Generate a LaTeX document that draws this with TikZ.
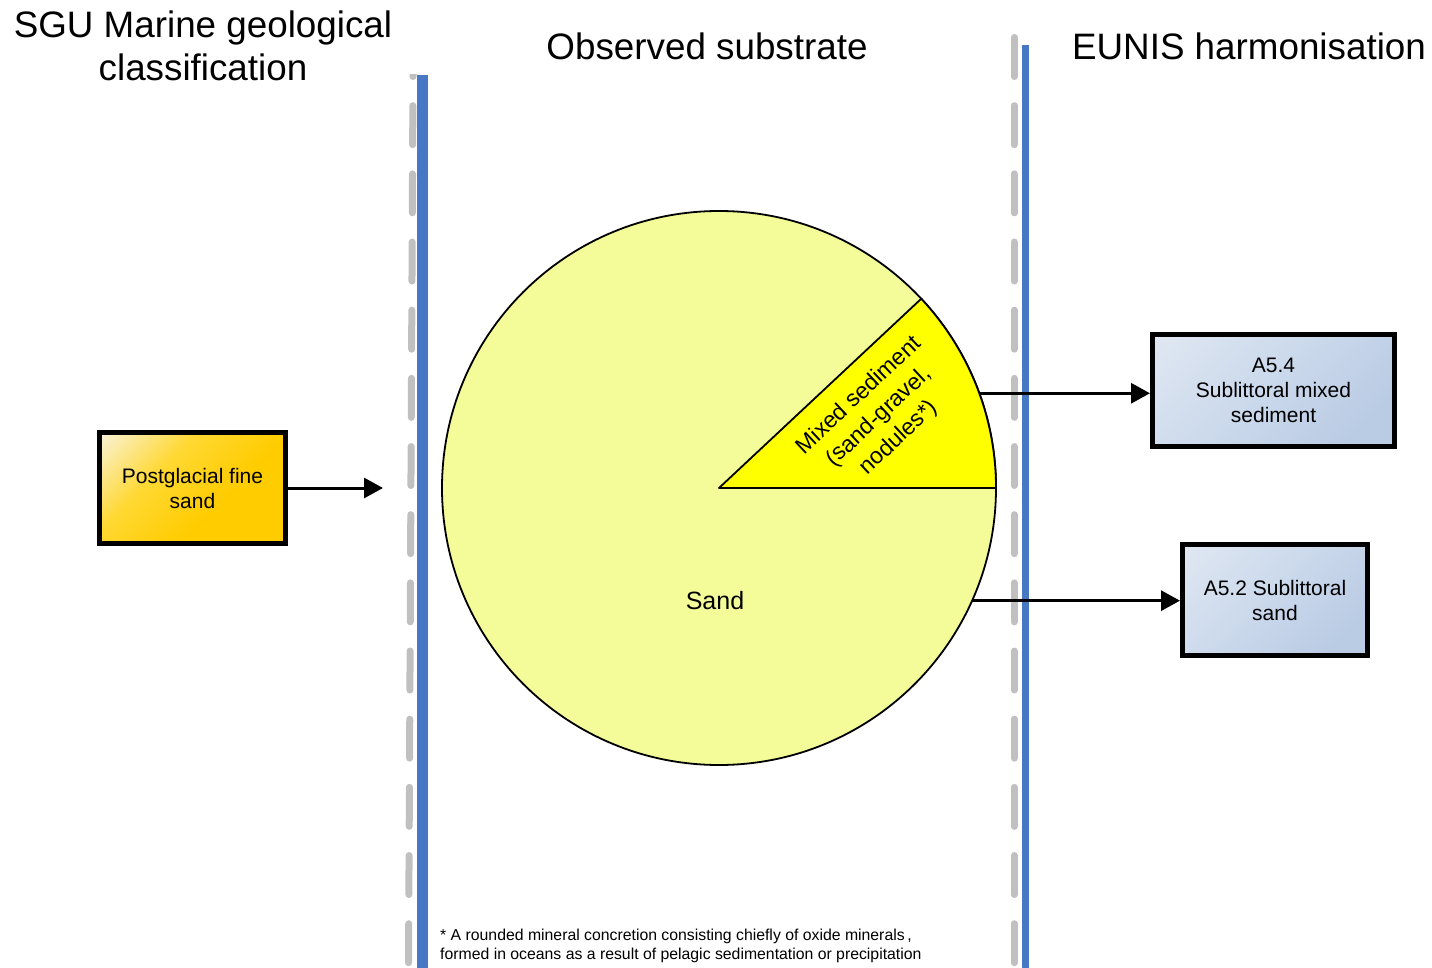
\documentclass[tikz,border=0pt]{standalone}
\usepackage{fontspec}
\setmainfont{Liberation Sans}
\usetikzlibrary{arrows.meta}

\definecolor{sandfill}{RGB}{243,252,152}
\definecolor{mixfill}{RGB}{255,255,0}
\definecolor{divblue}{RGB}{72,120,196}
\definecolor{guidegray}{RGB}{192,192,192}
\definecolor{goldA}{RGB}{248,246,236}
\definecolor{goldB}{RGB}{255,216,50}
\definecolor{goldC}{RGB}{255,204,0}
\definecolor{blueA}{RGB}{224,231,242}
\definecolor{blueB}{RGB}{204,218,236}
\definecolor{blueC}{RGB}{186,203,228}

% diagonal fades for the class boxes (pale corner at the top)
\pgfdeclareverticalshading{goldfade}{100bp}{color(0bp)=(goldC); color(40bp)=(goldC); color(62bp)=(goldB); color(88bp)=(goldA); color(100bp)=(goldA)}
\pgfdeclareverticalshading{bluefade}{100bp}{color(0bp)=(blueC); color(25bp)=(blueC); color(55bp)=(blueB); color(85bp)=(blueA); color(100bp)=(blueA)}

\begin{document}
\begin{tikzpicture}[x=1pt,y=-1pt,
  heading/.style={font=\fontsize{36.8}{43.5}\selectfont, align=center, inner sep=0},
  classbox/.style={draw=black, line width=5pt, align=center, inner sep=0,
    font=\fontsize{21}{25}\selectfont},
  goldbox/.style={classbox, shade, shading=goldfade, shading angle=45},
  bluebox/.style={classbox, shade, shading=bluefade, shading angle=45},
  link/.style={line width=3pt, -{Triangle[length=19pt,width=20pt]}},
  guide/.style={draw=guidegray, line width=7pt, line cap=round, dash pattern=on 39pt off 29.17pt},
  note/.style={font=\fontsize{15.8}{19}\selectfont, align=left, inner sep=0, anchor=west}]
\useasboundingbox (0,0) rectangle (1432,968);

% column headings
\node[heading] (h1) at (203,46) {SGU Marine geological\\classification};
\node[heading] (h2) at (707,46) {Observed substrate};
\node[heading] (h3) at (1249,46) {EUNIS harmonisation};

% column separators: grey dashed guides and blue rules
\begin{scope}
  \clip (380,75) rectangle (440,968);
  \draw[guide] (413.2,37.5) -- (408.5,968);
\end{scope}
\draw[guide] (1014,37.5) -- (1014,968);
\draw[divblue, line width=11pt] (422.5,75) -- (422.5,968);
\draw[divblue, line width=7pt] (1025.5,45) -- (1025.5,968);

% observed substrate pie
\node[circle, draw=black, line width=1.8pt, fill=sandfill, minimum size=554pt, inner sep=0, outer sep=0] (pie) at (719,488) {};
\filldraw[fill=mixfill, draw=black, line width=1.8pt, line join=round]
  (pie.center) -- (pie.0) arc[start angle=0, end angle=43.1, radius=277pt] -- cycle;
\node[font=\fontsize{25}{30}\selectfont] (sand) at (715,601) {Sand};
\node[font=\fontsize{23}{29}\selectfont, align=center, rotate=43.1, inner sep=0] (mixed) at (879,417)
  {Mixed sediment\\(sand-gravel,\\nodules*)};

% classification boxes
\node[goldbox, minimum width=186pt, minimum height=111pt] (pg) at (192.5,488) {Postglacial fine\\sand};
\node[bluebox, minimum width=242pt, minimum height=112pt] (a54) at (1273.5,390.5) {A5.4\\Sublittoral mixed\\sediment};
\node[bluebox, minimum width=185pt, minimum height=111pt] (a52) at (1275,600) {A5.2 Sublittoral\\sand};

% links
\coordinate (pgend) at (383,488);
\draw[link] (pg.east) -- (pgend);
\draw[link] (pie.20.6) -- (pie.20.6 -| a54.west);
\draw[link] (pie.-24.2) -- (pie.-24.2 -| a52.west);

% footnote
\node[note] (fn) at (440,945.5) {* A rounded mineral concretion consisting chiefly of oxide minerals\,,\\formed in oceans as a result of pelagic sedimentation or precipitation};
\end{tikzpicture}
\end{document}
